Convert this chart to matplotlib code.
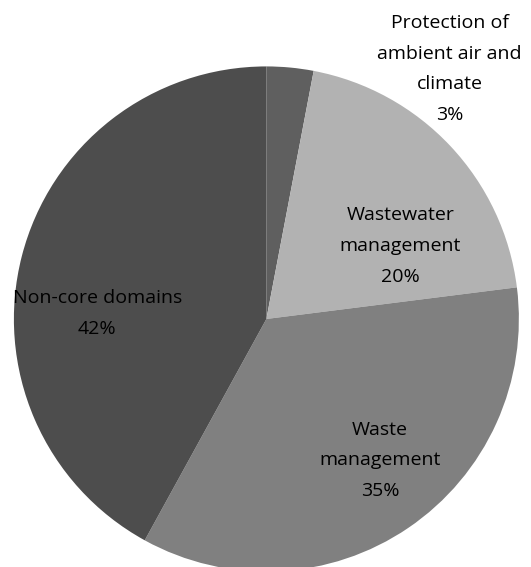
import matplotlib.pyplot as plt

# Anteile der Bereiche (im Uhrzeigersinn ab 12 Uhr)
categories = ['Protection of\nambient air and\nclimate', 'Wastewater\nmanagement',
              'Waste\nmanagement', 'Non-core domains']
shares = [3, 20, 35, 42]
colors = ['#5f5f5f', '#b2b2b2', '#808080', '#4d4d4d']

# Position der Beschriftungen (Datenkoordinaten, Radius 1)
label_pos = [(0.725, 0.99), (0.53, 0.29), (0.45, -0.56), (-0.67, 0.02)]

plt.rcParams['font.family'] = ['Open Sans', 'DejaVu Sans']

fig = plt.figure(figsize=(5.31, 5.67), dpi=100)
ax = fig.add_axes([0, 0, 1, 1])

ax.pie(shares, colors=colors, startangle=90, counterclock=False,
       radius=1.0, wedgeprops=dict(linewidth=0))

for name, val, (x, y) in zip(categories, shares, label_pos):
    ax.text(x, y, f'{name}\n{val}%', ha='center', va='center',
            fontsize=14, linespacing=1.92, color='black')

ax.set_xlim(-1.055, 1.048)
ax.set_ylim(-0.982, 1.263)
ax.set_aspect('auto')
ax.axis('off')

fig.savefig('out.png', dpi=100)
